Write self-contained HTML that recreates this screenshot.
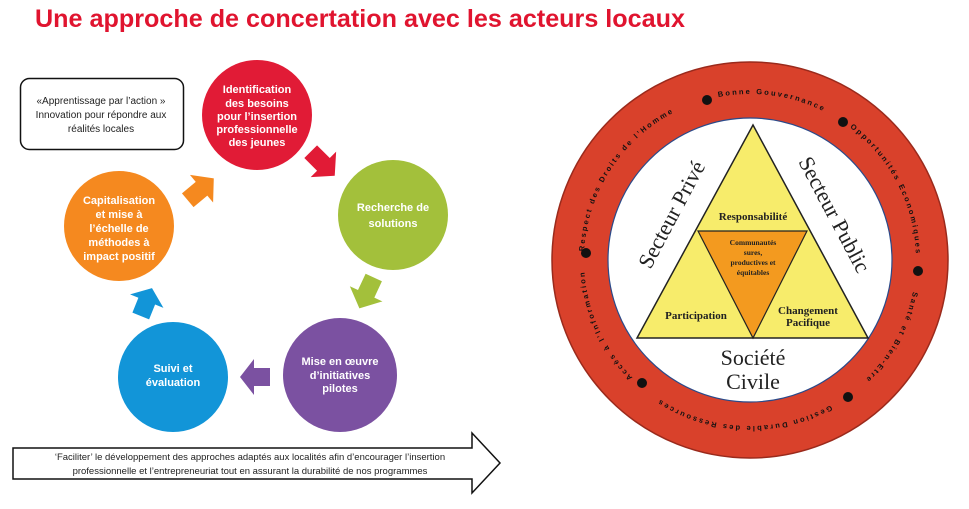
<!DOCTYPE html>
<html><head><meta charset="utf-8"><style>
html,body{margin:0;padding:0;background:#fff;}
svg{display:block;}
.ct{font-family:"Liberation Sans",sans-serif;font-weight:bold;fill:#fff;font-size:11px;text-anchor:middle;}
.rt{font-family:"Liberation Sans",sans-serif;font-weight:bold;font-size:7.5px;letter-spacing:2.1px;fill:#111;}
.sf{font-family:"Liberation Serif",serif;}
</style></head><body>
<svg width="969" height="509" viewBox="0 0 969 509" xmlns="http://www.w3.org/2000/svg">
<text x="35" y="27" font-family="Liberation Sans,sans-serif" font-weight="bold" font-size="25" fill="#e0142f" textLength="650" lengthAdjust="spacingAndGlyphs">Une approche de concertation avec les acteurs locaux</text>

<rect x="20.5" y="78.5" width="163" height="71" rx="9" fill="#fff" stroke="#111" stroke-width="1.5"/>
<g font-family="Liberation Sans,sans-serif" font-size="10" fill="#222" text-anchor="middle">
<text x="101" y="104">«Apprentissage par l’action »</text>
<text x="101" y="118">Innovation pour répondre aux</text>
<text x="101" y="132">réalités locales</text>
</g>

<circle cx="257" cy="115" r="55" fill="#e11b36"/>
<circle cx="393" cy="215" r="55" fill="#a3c03b"/>
<circle cx="119" cy="226" r="55" fill="#f5891f"/>
<circle cx="340" cy="375" r="57" fill="#7b51a1"/>
<circle cx="173" cy="377" r="55" fill="#1295d8"/>

<text class="ct" x="257" y="93">Identification</text>
<text class="ct" x="257" y="107">des besoins</text>
<text class="ct" x="257" y="120">pour l’insertion</text>
<text class="ct" x="257" y="133">professionnelle</text>
<text class="ct" x="257" y="146">des jeunes</text>

<text class="ct" x="393" y="211" font-size="12">Recherche de</text>
<text class="ct" x="393" y="227" font-size="12">solutions</text>

<text class="ct" x="119" y="204">Capitalisation</text>
<text class="ct" x="119" y="218">et mise à</text>
<text class="ct" x="119" y="232">l’échelle de</text>
<text class="ct" x="119" y="246">méthodes à</text>
<text class="ct" x="119" y="260">impact positif</text>

<text class="ct" x="340" y="365">Mise en œuvre</text>
<text class="ct" x="340" y="379">d’initiatives</text>
<text class="ct" x="340" y="392">pilotes</text>

<text class="ct" x="173" y="372">Suivi et</text>
<text class="ct" x="173" y="386">évaluation</text>

<g>
<polygon transform="translate(322,163) rotate(45)" points="-16,-9 2,-9 2,-18 18,0 2,18 2,9 -16,9" fill="#e11b36"/>
<polygon transform="translate(367,292) rotate(115)" points="-16,-9 2,-9 2,-18 18,0 2,18 2,9 -16,9" fill="#a3c03b"/>
<polygon transform="translate(256,377) rotate(180)" points="-14,-9 2,-9 2,-18 16,0 2,18 2,9 -14,9" fill="#7b51a1"/>
<polygon transform="translate(146,303) rotate(-68)" points="-14,-9 2,-9 2,-18 16,0 2,18 2,9 -14,9" fill="#1295d8"/>
<polygon transform="translate(200,190) rotate(-40)" points="-16,-9 2,-9 2,-18 18,0 2,18 2,9 -16,9" fill="#f5891f"/>
</g>

<polygon points="13,448 472,448 472,433 500,463 472,493 472,479 13,479" fill="#fff" stroke="#111" stroke-width="1.5"/>
<g font-family="Liberation Sans,sans-serif" font-size="9.5" fill="#222" text-anchor="middle">
<text x="250" y="460">‘Faciliter’ le développement des approches adaptés aux localités afin d’encourager l’insertion</text>
<text x="250" y="474">professionnelle et l’entrepreneuriat tout en assurant la durabilité de nos programmes</text>
</g>

<circle cx="750" cy="260" r="198" fill="#d9412b" stroke="#9a2a1c" stroke-width="1.5"/>
<circle cx="750" cy="260" r="142" fill="#fff" stroke="#2a4a8a" stroke-width="1.2"/>
<defs><path id="ring" d="M750,94 A166,166 0 1 1 749.99,94"/></defs>
<g transform="rotate(-11 750 260)"><text class="rt"><textPath href="#ring">Bonne Gouvernance</textPath></text></g>
<g transform="rotate(37 750 260)"><text class="rt"><textPath href="#ring">Opportunités Economiques</textPath></text></g>
<g transform="rotate(101 750 260)"><text class="rt"><textPath href="#ring">Santé et Bien-Etre</textPath></text></g>
<g transform="rotate(151 750 260)"><text class="rt"><textPath href="#ring">Gestion Durable des Ressources</textPath></text></g>
<g transform="rotate(225 750 260)"><text class="rt"><textPath href="#ring">Accès à l’Information</textPath></text></g>
<g transform="rotate(273 750 260)"><text class="rt"><textPath href="#ring">Respect des Droits de l’Homme</textPath></text></g>
<g fill="#111">
<circle cx="707" cy="100" r="5"/><circle cx="843" cy="122" r="5"/><circle cx="918" cy="271" r="5"/>
<circle cx="848" cy="397" r="5"/><circle cx="642" cy="383" r="5"/><circle cx="586" cy="253" r="5"/>
</g>

<polygon points="753,125 868,338 637,338" fill="#f7ec6b" stroke="#222" stroke-width="1.5"/>
<polygon points="698,231 807,231 753,338" fill="#f39a1f" stroke="#222" stroke-width="1.2"/>
<g class="sf" font-weight="bold" fill="#222" text-anchor="middle">
<text x="753" y="220" font-size="11">Responsabilité</text>
<text x="696" y="319" font-size="11">Participation</text>
<text x="808" y="314" font-size="11">Changement</text>
<text x="808" y="326" font-size="11">Pacifique</text>
<text x="753" y="245" font-size="7.5">Communautés</text>
<text x="753" y="255" font-size="7.5">sures,</text>
<text x="753" y="265" font-size="7.5">productives et</text>
<text x="753" y="275" font-size="7.5">équitables</text>
</g>
<g class="sf" fill="#222" text-anchor="middle" font-size="22">
<text transform="translate(678,218) rotate(-62)">Secteur Privé</text>
<text transform="translate(828,218) rotate(62)">Secteur Public</text>
<text x="753" y="365">Société</text>
<text x="753" y="389">Civile</text>
</g>
</svg>
</body></html>
